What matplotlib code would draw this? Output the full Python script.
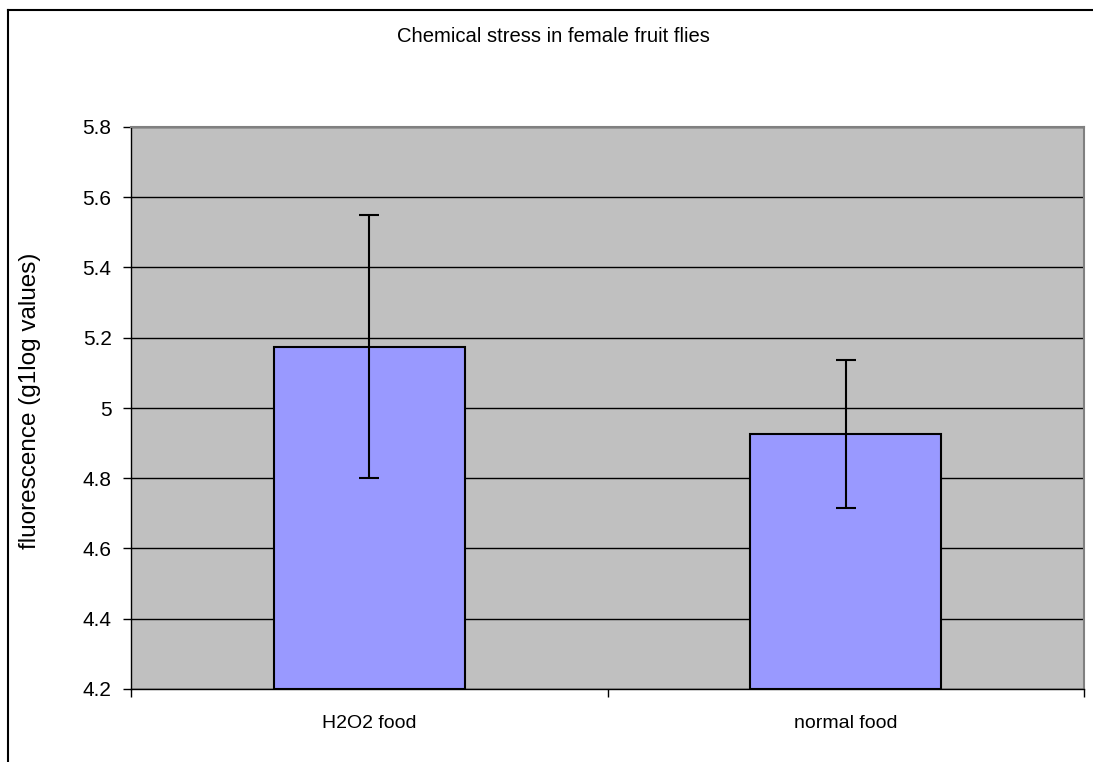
import matplotlib
matplotlib.use("Agg")
import matplotlib.pyplot as plt
from matplotlib.lines import Line2D

categories = ["H2O2 food", "normal food"]
means = [5.175, 4.926]
errors = [0.375, 0.212]
yticks = [4.2, 4.4, 4.6, 4.8, 5.0, 5.2, 5.4, 5.6, 5.8]
ytick_labels = ["4.2", "4.4", "4.6", "4.8", "5", "5.2", "5.4", "5.6", "5.8"]

plt.rcParams['font.family'] = ['Liberation Sans', 'DejaVu Sans']

fig = plt.figure(figsize=(10.93, 7.62), dpi=100)
ax = fig.add_axes([131/1093, 73/762, 953/1093, 562/762])
ax.set_facecolor('#c0c0c0')

x = list(range(len(categories)))
ax.bar(x, [m - 4.2 for m in means], bottom=4.2, width=0.4, color='#9999ff',
       edgecolor='black', linewidth=1.5, zorder=3)
ax.errorbar(x, means, yerr=errors, fmt='none', ecolor='black', elinewidth=1.5,
            capsize=7, capthick=1.5, zorder=4)

ax.set_xlim(-0.5, 1.5)
ax.set_ylim(4.2, 5.8)
ax.set_yticks(yticks)
ax.set_yticklabels(ytick_labels, fontsize=15)
ax.yaxis.grid(True, color='black', linewidth=1, zorder=1)
ax.set_axisbelow(True)

ax.set_xticks([-0.5, 0.5, 1.5])
ax.set_xticklabels([])
ax.set_xticks(x, minor=True)
ax.set_xticklabels(categories, minor=True, fontsize=14)
ax.tick_params(axis='x', which='minor', length=0, pad=19)
ax.tick_params(axis='x', which='major', length=6, width=1, color='black')
ax.tick_params(axis='y', length=6, width=1, color='black', pad=8)

for s in ['top', 'right']:
    ax.spines[s].set_color('#808080')
    ax.spines[s].set_linewidth(1.5)
for s in ['left', 'bottom']:
    ax.spines[s].set_color('black')
    ax.spines[s].set_linewidth(1)

fig.text(30/1093, 1 - 401/762, "fluorescence (g1log values)", rotation=90,
         ha='center', va='center', fontsize=17.5)
fig.text(553/1093, 1 - 37/762, "Chemical stress in female fruit flies", ha='center', va='center', fontsize=14.6)

fig.add_artist(Line2D([8/1093, 1.0], [1 - 10/762, 1 - 10/762], transform=fig.transFigure, color='black', linewidth=1.5))
fig.add_artist(Line2D([8/1093, 8/1093], [0, 1 - 10/762], transform=fig.transFigure, color='black', linewidth=1.5))

fig.savefig("out.png", dpi=100)
